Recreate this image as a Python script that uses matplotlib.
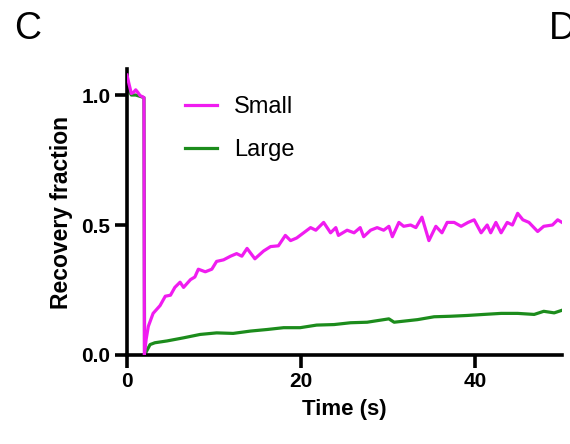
"""FRAP recovery curves for small and large probes (panel C)."""

import matplotlib
matplotlib.use("Agg")
import matplotlib.pyplot as plt

plt.rcParams["font.family"] = ["Liberation Sans", "DejaVu Sans"]

# values
small_t = [0.0, 0.25, 0.5, 0.75, 1.0, 1.25, 1.5, 1.75, 1.95, 2.0,
           2.2, 2.45, 3.0, 3.8, 4.4, 5.0, 5.5, 6.1, 6.5, 7.3, 7.8, 8.2, 9.0,
           9.75, 10.3, 11.1, 11.9, 12.6, 13.2, 13.8, 14.7, 15.7, 16.5,
           17.4, 18.2, 18.8, 19.5, 20.3, 21.1, 21.7, 22.6, 23.4, 24.0,
           24.3, 25.3, 26.1, 26.8, 27.2, 28.0, 28.75, 29.5, 30.1, 30.5,
           31.25, 31.8, 32.6, 33.2, 33.9, 34.7, 35.5, 36.2, 36.8, 37.6,
           38.4, 39.2, 39.9, 40.7, 41.4, 41.8, 42.4, 43.0, 43.7, 44.3,
           44.9, 45.5, 46.2, 47.2, 47.9, 48.9, 49.5, 50.0]
small_v = [1.077, 1.04, 1.006, 1.01, 1.02, 1.01, 0.998, 0.994, 0.99, 0.0,
           0.06, 0.11, 0.16, 0.19, 0.226, 0.23, 0.26, 0.28, 0.26, 0.29, 0.30,
           0.33, 0.32, 0.33, 0.36, 0.366, 0.38, 0.39, 0.38, 0.41, 0.37,
           0.40, 0.417, 0.42, 0.46, 0.44, 0.45, 0.47, 0.49, 0.48, 0.51,
           0.47, 0.49, 0.46, 0.48, 0.47, 0.49, 0.455, 0.48, 0.49, 0.48,
           0.495, 0.455, 0.51, 0.495, 0.50, 0.49, 0.53, 0.44, 0.495, 0.47,
           0.51, 0.51, 0.495, 0.51, 0.52, 0.47, 0.50, 0.47, 0.51, 0.47,
           0.51, 0.50, 0.545, 0.52, 0.51, 0.475, 0.495, 0.50, 0.52, 0.51]

large_t = [0.0, 0.5, 1.0, 1.5, 1.95, 2.02, 2.65, 3.2, 4.6, 6.5, 8.4,
           10.3, 12.2, 14.2, 16.1, 18.0, 19.9, 21.8, 23.8, 25.7, 27.6,
           30.1, 30.7, 33.4, 35.3, 37.2, 39.1, 41.0, 43.0, 44.9, 46.8,
           47.9, 49.1, 50.0]
large_v = [1.03, 1.0, 1.0, 0.995, 0.99, 0.0, 0.04, 0.047, 0.054, 0.066,
           0.079, 0.085, 0.083, 0.092, 0.098, 0.105, 0.105, 0.115, 0.117,
           0.124, 0.126, 0.139, 0.126, 0.136, 0.147, 0.149, 0.152, 0.156,
           0.16, 0.16, 0.156, 0.168, 0.162, 0.172]

x_ticks = [0, 20, 40]
y_ticks = [0.0, 0.5, 1.0]
y_tick_labels = ["0.0", "0.5", "1.0"]

fig = plt.figure(figsize=(5.7, 4.44), dpi=100)
ax = fig.add_axes([0.2228, 0.2005, 0.7632, 0.644])

ax.plot(large_t, large_v, color="#1c8c1c", linewidth=2.3, label="Large", zorder=2)
ax.plot(small_t, small_v, color="#f01cf0", linewidth=2.3, label="Small", zorder=3)

ax.set_xlim(0, 50)
ax.set_ylim(0, 1.1)
ax.set_xticks(x_ticks)
ax.set_yticks(y_ticks)
ax.set_yticklabels(y_tick_labels)

for side in ("top", "right"):
    ax.spines[side].set_visible(False)
for side in ("left", "bottom"):
    ax.spines[side].set_linewidth(2.6)
ax.tick_params(width=2.6, length=9, labelsize=15, pad=3)
for label in ax.get_xticklabels() + ax.get_yticklabels():
    label.set_fontweight("bold")

ax.set_xlabel("Time (s)", fontsize=16, fontweight="bold", labelpad=6)
ax.set_ylabel("Recovery fraction", fontsize=16.5, fontweight="bold", labelpad=6)

handles, labels = ax.get_legend_handles_labels()
ax.legend(handles[::-1], labels[::-1], loc="upper left", bbox_to_anchor=(0.085, 0.98),
          frameon=False, fontsize=17, handlelength=1.33, handletextpad=0.75,
          labelspacing=0.9)

fig.text(0.025, 0.975, "C", fontsize=27, va="top", ha="left")
fig.text(0.963, 0.975, "D", fontsize=27, va="top", ha="left")

fig.savefig("out.png", dpi=100)
plt.close(fig)
